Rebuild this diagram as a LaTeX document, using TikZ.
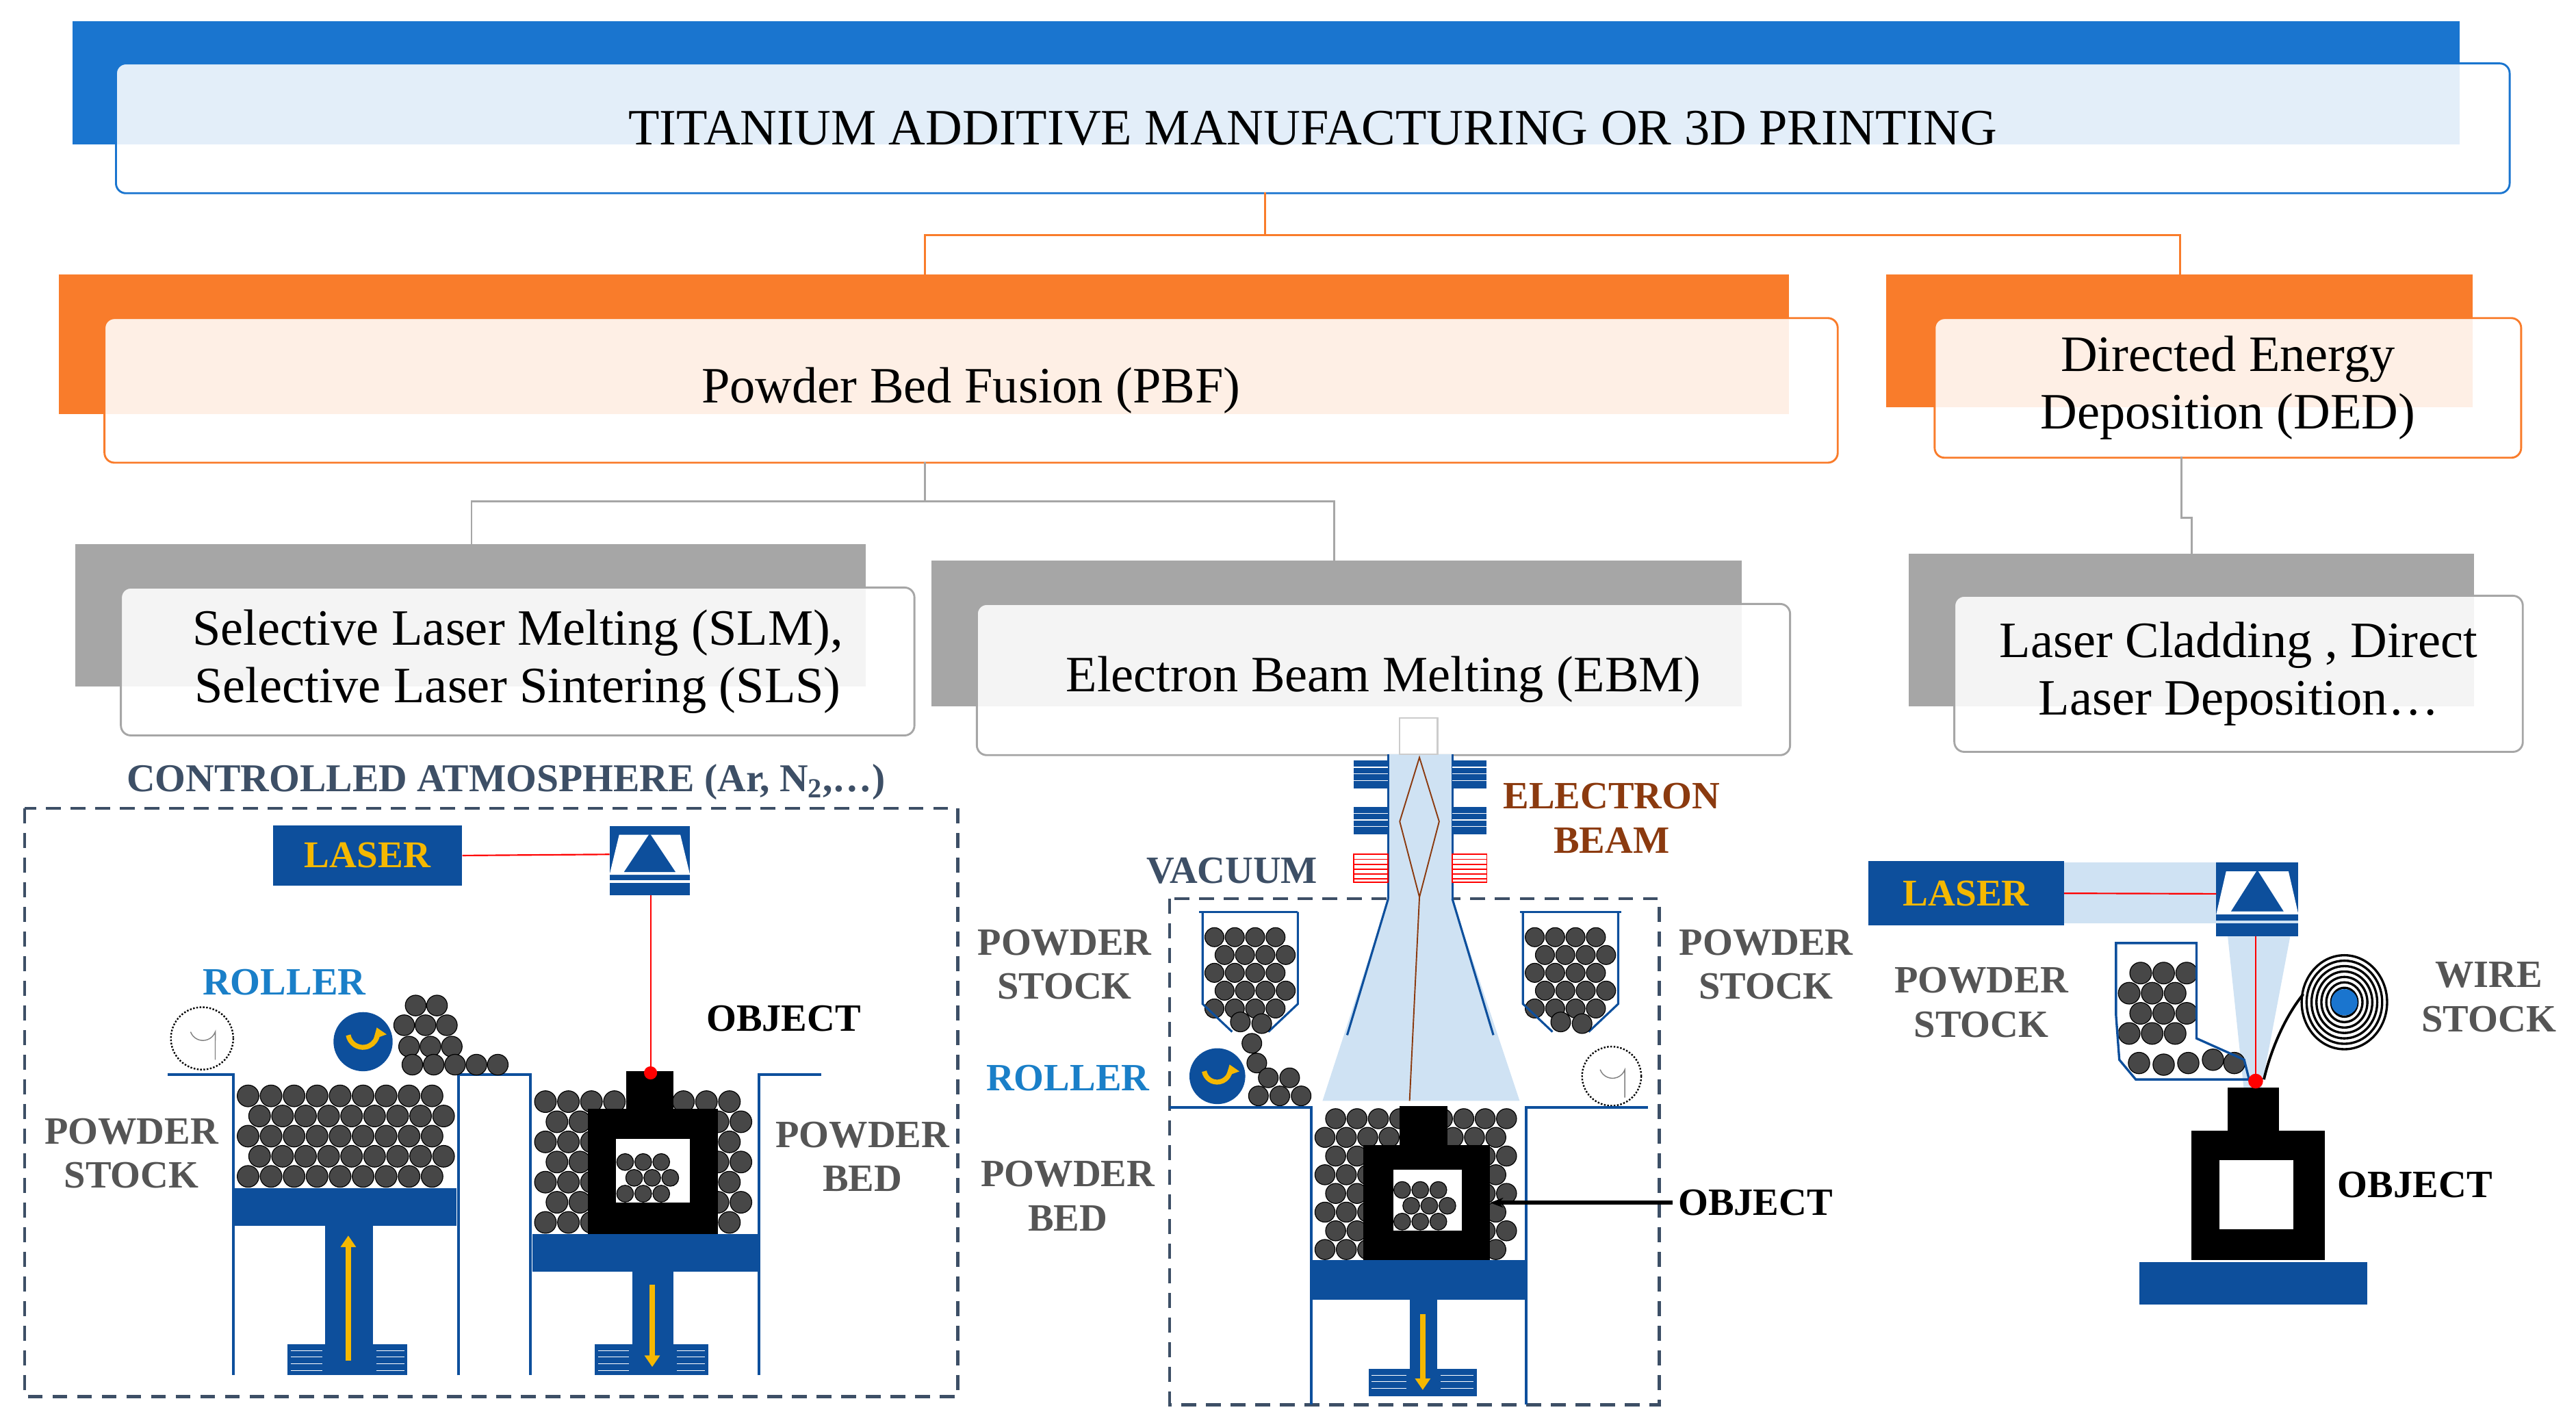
\documentclass[tikz,border=0pt]{standalone}
\usepackage{fontspec}
\setmainfont{Liberation Serif}
\usetikzlibrary{arrows.meta}
\definecolor{tblue}{HTML}{1A75CF}
\definecolor{torange}{HTML}{F97C2B}
\definecolor{tgray}{HTML}{A6A6A6}
\definecolor{dblue}{HTML}{0D4F9C}
\definecolor{lblue}{HTML}{CFE2F3}
\definecolor{ylw}{HTML}{F5B800}
\definecolor{lbl}{HTML}{555555}
\definecolor{rblue}{HTML}{1A7FC8}
\definecolor{brn}{HTML}{8B3A0F}
\definecolor{atm}{HTML}{3D4F66}
\tikzset{
 over/.style={draw=#1,rounded corners=6pt,fill=white,fill opacity=0.88,line width=1.2pt},
 btxt/.style={font=\fontsize{31}{35}\selectfont,align=center,text opacity=1},
 lab/.style={font=\bfseries\fontsize{23.5}{27}\selectfont,text=lbl,align=center},
 conn/.style={line width=1.2pt},
 wall/.style={draw=dblue,line width=1.6pt},
 blk/.style={fill=dblue},
 yarrow/.style={draw=ylw,line width=3.5pt,-{Triangle[length=7pt,width=9pt]}},
 dashbox/.style={draw=atm,line width=1.8pt,dash pattern=on 9pt off 6pt},
 ray/.style={draw=red,line width=0.9pt},
 grain/.style={fill=black!72,draw=black,line width=0.5pt}
}
\newcommand{\powderfill}[5]{%
 \pgfmathtruncatemacro\nx{max(0,floor(((#3)-(#1)-3*(#5))/(2*(#5))))}%
 \pgfmathtruncatemacro\ny{max(0,floor(((#4)-(#2)-2*(#5))/(1.75*(#5))))}%
 \foreach \j in {0,...,\ny}{\foreach \i in {0,...,\nx}{%
  \pgfmathsetmacro\cx{(#1)+(#5)+2*(#5)*\i+mod(\j,2)*(#5)}%
  \pgfmathsetmacro\cy{(#4)-(#5)-1.75*(#5)*\j}%
  \fill[grain] (\cx,\cy) circle (#5-0.4);}}}
\newcommand{\mirrorat}[4]{% x0 y0 w h
 \fill[dblue] (#1,#2) rectangle ++(#3,0.78*#4);
 \fill[white] (#1+0.12*#3,#2+0.12*#4) -- (#1+0.88*#3,#2+0.12*#4) -- (#1+#3,#2+0.7*#4) -- (#1,#2+0.7*#4) -- cycle;
 \fill[dblue] (#1+0.5*#3,#2+0.1*#4) -- (#1+0.82*#3,#2+0.66*#4) -- (#1+0.18*#3,#2+0.66*#4) -- cycle;
 \fill[dblue] (#1,#2+0.82*#4) rectangle ++(#3,0.18*#4);}
\begin{document}
\begin{tikzpicture}[x=1pt,y=-1pt]
\useasboundingbox (0,0) rectangle (1568,867);
% ===== hierarchy =====
\fill[tblue] (44,13) rectangle (1497,88);
\node[over=tblue,minimum width=1457,minimum height=79,anchor=north west] (t) at (70,38) {};
\node[btxt] at (t.center) {TITANIUM ADDITIVE MANUFACTURING OR 3D PRINTING};
\fill[torange] (36,167) rectangle (1089,252);
\node[over=torange,minimum width=1055,minimum height=88,anchor=north west] (pbf) at (63,193) {};
\node[btxt] at (pbf.center) {Powder Bed Fusion (PBF)};
\fill[torange] (1148,167) rectangle (1505,248);
\node[over=torange,minimum width=357,minimum height=85,anchor=north west] (ded) at (1177,193) {};
\node[btxt] at (ded.center) {Directed Energy\\Deposition (DED)};
\fill[tgray] (46,331) rectangle (527,418);
\node[over=tgray,minimum width=483,minimum height=90,anchor=north west] (slm) at (73,357) {};
\node[btxt] at (slm.center) {Selective Laser Melting (SLM),\\Selective Laser Sintering (SLS)};
\fill[tgray] (567,341) rectangle (1060,430);
\node[over=tgray,minimum width=495,minimum height=92,anchor=north west] (ebm) at (594,367) {};
\node[btxt] at (ebm.center) {Electron Beam Melting (EBM)};
\fill[tgray] (1162,337) rectangle (1506,430);
\node[over=tgray,minimum width=346,minimum height=95,anchor=north west] (lc) at (1189,362) {};
\node[btxt] at (lc.center) {Laser Cladding , Direct\\Laser Deposition\dots};
\coordinate (t1) at (770,117);
\draw[conn,torange] (t1) -- (770,143) -- (563,143) -- (563,167);
\draw[conn,torange] (770,143) -- (1327,143) -- (1327,167);
\draw[conn,tgray] (563,281) -- (563,305) -- (287,305) -- (287,331);
\draw[conn,tgray] (563,305) -- (812,305) -- (812,341);
\draw[conn,tgray] (1328,278) -- (1328,315) -- (1334,315) -- (1334,337);
% ===== panel 1 =====
\node[font=\bfseries\fontsize{24}{28}\selectfont,text=atm] at (308,476) {CONTROLLED ATMOSPHERE (Ar, N\textsubscript{2},\dots)};
\draw[dashbox] (15,492) rectangle (583,850);
\node[blk,minimum width=115,minimum height=37,anchor=north west,inner sep=0] (las1) at (166,502) {};
\node[text=ylw,font=\bfseries\fontsize{23}{26}\selectfont] at (las1.center) {LASER};
\mirrorat{371}{503}{49}{42}
\coordinate (m1) at (371,520);
\draw[ray] (las1.east) -- (m1);
\draw[ray] (396,545) -- (396,653);
\node[lab,text=rblue] at (173,598) {ROLLER};
\node[lab,text=black] at (477,620) {OBJECT};
\node[lab] at (80,702) {POWDER\\STOCK};
\node[lab] at (525,704) {POWDER\\BED};
\draw[black,densely dotted,line width=1pt] (123,632) circle (19);
\draw[black!50,line width=0.6pt] (116,628) arc (160:20:8) -- (131,645);
% left chamber
\draw[wall] (102,654) -- (142,654) -- (142,837);
\draw[wall] (279,837) -- (279,654) -- (323,654) -- (323,837);
\draw[wall] (462,837) -- (462,654) -- (500,654);
\powderfill{144}{652}{281}{723}{7}
\fill[dblue] (143,723) rectangle (278,746);
\fill[dblue] (198,746) rectangle (227,837);
\fill[dblue] (175,818) rectangle (248,837);
\foreach \yy in {822,826,830,834}{\draw[white,line width=0.4pt] (177,\yy) -- (196,\yy) (229,\yy) -- (246,\yy);}
\draw[yarrow] (212,828) -- (212,752);
\fill[dblue] (221,634) circle (18);
\draw[ylw,line width=3pt,-{Triangle[length=6pt,width=8pt]}] (212,630) arc (170:-20:9);
\foreach \p in {(246,624),(259,624),(272,624),(249,637),(262,637),(275,637),(251,648),(264,648),(277,648),(290,648),(303,648),(253,612),(266,612)}{\fill[grain] \p circle (6.3);}
% right chamber
\powderfill{325}{652}{462}{751}{7}
\fill[black] (381,652) rectangle (410,676);
\fill[black] (358,675) rectangle (437,751);
\fill[white] (375,693) rectangle (420,732);
\begin{scope}\clip (375,693) rectangle (420,732);\powderfill{375}{693}{421}{732}{5.5}\end{scope}
\fill[red] (396,653) circle (4);
\fill[dblue] (324,751) rectangle (461,774);
\fill[dblue] (385,774) rectangle (410,837);
\fill[dblue] (362,818) rectangle (431,837);
\foreach \yy in {822,826,830,834}{\draw[white,line width=0.4pt] (364,\yy) -- (383,\yy) (412,\yy) -- (429,\yy);}
\draw[yarrow] (397,782) -- (397,832);
% ===== panel 2 =====
\draw[dashbox] (712,547) rectangle (1010,855);
\fill[lblue] (805,670) -- (845,547) -- (884,547) -- (925,670) -- cycle;
\draw[dblue,line width=1.3pt] (845,547) -- (820,630) (884,547) -- (909,630);
\fill[lblue] (845,459) rectangle (884,547);
\draw[dblue,line width=1.2pt] (845,459) -- (845,547) (884,459) -- (884,547);
\draw[black!20,line width=1pt] (852,437) rectangle (875,459);
\foreach \yy in {463,491}{\fill[dblue] (824,\yy) rectangle (845,\yy+17); \fill[dblue] (884,\yy) rectangle (905,\yy+17);
 \foreach \k in {4,8,12}{\draw[white,line width=0.6pt] (824,\yy+\k) -- (845,\yy+\k) (884,\yy+\k) -- (905,\yy+\k);}}
\fill[white,draw=red,line width=0.8pt] (824,520) rectangle (845,537);\fill[white,draw=red,line width=0.8pt] (884,520) rectangle (905,537);
\foreach \k in {3,6,9,12,15}{\draw[red,line width=0.7pt] (824,520+\k) -- (845,520+\k) (884,520+\k) -- (905,520+\k);}
\draw[brn,line width=0.8pt] (864,461) -- (852,500) -- (864,546) -- (876,500) -- cycle;
\draw[brn,line width=0.8pt] (864,546) -- (858,670);
\node[lab,text=brn] at (981,498) {ELECTRON\\BEAM};
\node[lab,text=atm] at (750,530) {VACUUM};
\node[lab] at (648,587) {POWDER\\STOCK};
\node[lab,text=rblue] at (650,656) {ROLLER};
\node[lab] at (650,728) {POWDER\\BED};
\node[lab] at (1075,587) {POWDER\\STOCK};
% hoppers
\powderfill{733}{557}{791}{620}{6.2}
\draw[wall,line width=1.3pt] (732,555) -- (732,611) -- (750,628) (772,628) -- (790,611) -- (790,555);
\draw[wall,line width=1.3pt] (730,555) -- (790,555);
\fill[grain] (755,622) circle (6) (768,623) circle (6) (762,635) circle (6) (765,647) circle (6);
\powderfill{928}{557}{986}{620}{6.2}
\draw[wall,line width=1.3pt] (927,555) -- (927,611) -- (945,628) (967,628) -- (985,611) -- (985,555);
\draw[wall,line width=1.3pt] (925,555) -- (987,555);
\fill[grain] (950,622) circle (6) (963,623) circle (6);
\fill[dblue] (741,655) circle (17);
\draw[ylw,line width=3pt,-{Triangle[length=6pt,width=8pt]}] (733,652) arc (170:-20:8);
\foreach \p in {(766,667),(779,667),(792,667),(772,656),(785,656)}{\fill[grain] \p circle (6);}
\draw[black,densely dotted,line width=1pt] (981,655) circle (18);
\draw[black!50,line width=0.6pt] (974,651) arc (160:20:8) -- (989,668);
\draw[wall] (712,674) -- (798,674) -- (798,855);
\draw[wall] (929,855) -- (929,674) -- (1003,674);
\powderfill{800}{673}{929}{767}{6.5}
\fill[black] (852,673) rectangle (881,698);
\fill[black] (830,697) rectangle (907,767);
\fill[white] (848,712) rectangle (890,749);
\begin{scope}\clip (848,712) rectangle (890,749);\powderfill{848}{712}{891}{749}{5.5}\end{scope}
\fill[dblue] (799,767) rectangle (928,791);
\fill[dblue] (858,791) rectangle (875,850);
\fill[dblue] (833,833) rectangle (899,850);
\foreach \yy in {837,841,845}{\draw[white,line width=0.4pt] (835,\yy) -- (856,\yy) (877,\yy) -- (897,\yy);}
\draw[yarrow] (866,800) -- (866,846);
\node[lab,text=black,anchor=west] (ob2) at (1018,732) {OBJECT};
\coordinate (ob2e) at (907,732);
\draw[black,line width=2.5pt,-{Stealth[length=8pt]}] (ob2.west) -- (ob2e);
% ===== panel 3 =====
\fill[lblue] (1256,525) rectangle (1399,562);
\fill[lblue] (1356,570) -- (1394,570) -- (1376,665) -- (1366,665) -- cycle;
\node[blk,minimum width=119,minimum height=39,anchor=north west,inner sep=0] (las3) at (1137,524) {};
\node[text=ylw,font=\bfseries\fontsize{23}{26}\selectfont] at (las3.center) {LASER};
\mirrorat{1349}{525}{50}{45}
\coordinate (m3) at (1349,544);
\draw[ray] (las3.east) -- (m3);
\draw[ray] (1373,570) -- (1373,657);
\begin{scope}\clip (1288,575) -- (1337,575) -- (1337,632) -- (1366,645) -- (1369,657) -- (1300,657) -- (1290,645) -- cycle;
\powderfill{1289}{575}{1340}{636}{7}
\end{scope}
\foreach \p in {(1302,647),(1317,648),(1332,647),(1347,645),(1360,647)}{\fill[grain] \p circle (6.5);}
\draw[wall,line width=1.4pt] (1288,574) -- (1288,618) -- (1290,645) -- (1300,657) -- (1369,657) -- (1366,645) -- (1337,632) -- (1337,574) -- cycle;
\foreach \r in {8,11,14,17,20,23,26}{\draw[black,line width=1.4pt] (1427,610) ellipse ({\r} and {\r*1.1});}
\fill[tblue] (1427,610) circle (8);
\draw[black,line width=1.6pt] (1402,605) .. controls (1390,620) and (1382,640) .. (1378,657);
\fill[black] (1356,662) rectangle (1387,689);
\fill[black] (1334,688) rectangle (1415,767);
\fill[white] (1351,706) rectangle (1396,748);
\fill[red] (1373,658) circle (4.5);
\fill[dblue] (1302,768) rectangle (1441,794);
\node[lab] at (1206,610) {POWDER\\STOCK};
\node[lab] at (1515,607) {WIRE\\STOCK};
\node[lab,text=black] at (1470,721) {OBJECT};
\end{tikzpicture}
\end{document}
